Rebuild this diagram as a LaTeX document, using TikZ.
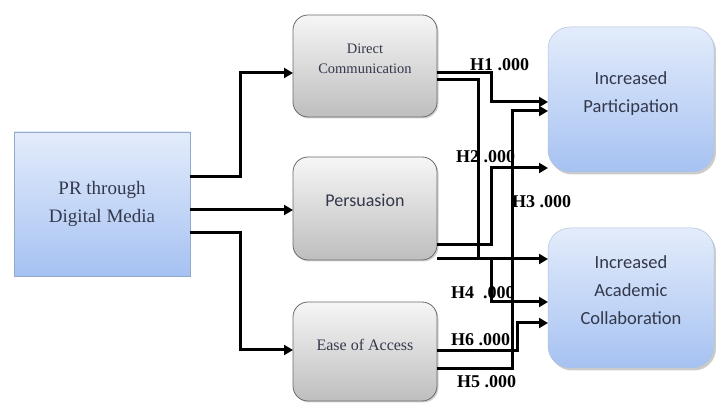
\documentclass[tikz,border=0pt]{standalone}
\usepackage{fontspec}
\setmainfont{Liberation Serif}
\newfontfamily\carl{Carlito}
\usetikzlibrary{shadows,arrows.meta}
\definecolor{txtgray}{HTML}{33384A}
\definecolor{bluetop}{HTML}{E3ECFB}
\definecolor{bluebot}{HTML}{A6C2F2}
\definecolor{blueedge}{HTML}{93A9CC}
\definecolor{graytop}{HTML}{F6F6F6}
\definecolor{graybot}{HTML}{BEBEBE}
\definecolor{grayedge}{HTML}{6A6A6A}
\begin{document}
\begin{tikzpicture}[x=1pt,y=-1pt,
  every node/.style={outer sep=0pt, inner sep=0pt},
  leftbox/.style={draw=blueedge, line width=0.8pt, top color=bluetop, bottom color=bluebot,
    minimum width=176pt, minimum height=144pt, align=center, text=txtgray},
  graybox/.style={draw=grayedge, line width=0.8pt, rounded corners=15pt, top color=graytop, bottom color=graybot,
    minimum width=144pt, align=center, text=txtgray,
    drop shadow={shadow xshift=1.5pt, shadow yshift=-1.5pt, opacity=0.35}},
  outbox/.style={draw=blueedge!70, line width=0.5pt, rounded corners=22pt, top color=bluetop, bottom color=bluebot,
    minimum width=166pt, align=center, text=txtgray,
    font=\carl\fontsize{18.5}{28}\selectfont,
    drop shadow={shadow xshift=2pt, shadow yshift=-2.5pt, opacity=0.4}},
  conn/.style={line width=3pt, -{Triangle[length=9pt,width=10pt]}},
  hlab/.style={anchor=west, font=\bfseries\fontsize{18}{18}\selectfont, text=black}]
\useasboundingbox (0,0) rectangle (716,403);
\fill[white] (0,0) rectangle (716,403);

% boxes
\node[leftbox, font=\fontsize{19}{28}\selectfont] (pr) at (102,204) {PR through\\Digital Media};
\node[graybox, minimum height=102pt, font=\fontsize{14.5}{20}\selectfont] (dc) at (365,66) {Direct\\Communication\\[-12pt]\strut};
\node[graybox, minimum height=103pt, font=\carl\fontsize{18}{18}\selectfont] (ps) at (365,208.5) {Persuasion\\[-8pt]\strut};
\node[graybox, minimum height=99pt, font=\fontsize{16}{14}\selectfont] (ea) at (365,351.5) {Ease of Access\\[-4pt]\strut};
\node[outbox, minimum height=145pt] (ip) at (631,99.5) {Increased\\Participation\\[-22pt]\strut};
\node[outbox, minimum height=140pt] (ic) at (631,298) {Increased\\Academic\\Collaboration\\[-20pt]\strut};

% inputs
\draw[conn] (pr.east |- 0,177) -- (240,177) |- (dc.west |- 0,73);
\draw[conn] (pr.east |- 0,210) -- (ps.west |- 0,210);
\draw[conn] (pr.east |- 0,233) -- (240,233) |- (ea.west |- 0,350);

% hypotheses
\draw[conn] (dc.east |- 0,73) -- (491,73) |- (ip.west |- 0,102);
\draw[conn] (dc.east |- 0,80) -- (478,80) -- (478,259) -- (491,259) |- (ic.west |- 0,302);
\draw[conn] (ps.east |- 0,245) -- (491,245) |- (ip.west |- 0,168);
\draw[conn] (ps.east |- 0,259) -- (ic.west |- 0,259);
\draw[conn] (ea.east |- 0,351) -- (517,351) |- (ic.west |- 0,323);
\draw[conn] (ea.east |- 0,369) -- (512,369) |- (ip.west |- 0,111);

% labels
\node[hlab] (h1) at (470,65) {H1 .000};
\node[hlab] (h2) at (456,157) {H2 .000};
\node[hlab] (h3) at (512,202) {H3 .000};
\node[hlab] (h4) at (451,293) {H4 \ .000};
\node[hlab] (h6) at (451,340) {H6 .000};
\node[hlab] (h5) at (457,382) {H5 .000};
\end{tikzpicture}
\end{document}
